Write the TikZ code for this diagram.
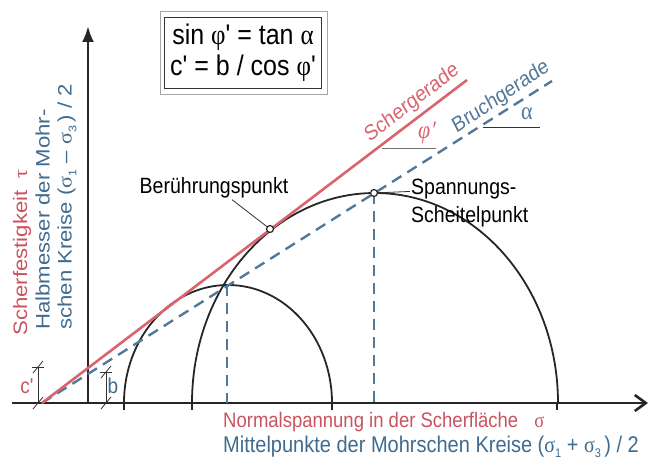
\documentclass[tikz,border=0pt]{standalone}
\usepackage{fontspec}
\setmainfont{Liberation Sans}
\newfontfamily\grk{Liberation Serif}
\usepackage{tikz}
\usetikzlibrary{positioning,arrows.meta,calc}
\definecolor{shearred}{HTML}{D9646E}
\definecolor{breakblue}{HTML}{52789A}
\definecolor{redtext}{HTML}{C9535E}
\definecolor{bluetext}{HTML}{3E6B8F}
\newcommand{\lowidx}[1]{\raisebox{-0.45ex}{\fontsize{11}{11}\selectfont #1}}

\begin{document}
\begin{tikzpicture}[x=1pt, y=-1pt,
    lbl/.style={inner sep=1pt, yscale=1.135, font=\fontsize{19}{23}\selectfont},
    axis/.style={line width=2.6pt, black!85},
    circ/.style={line width=1.8pt, black!85},
    rline/.style={line width=2.6pt, shearred},
    bline/.style={line width=2.4pt, breakblue, dash pattern=on 11pt off 7pt},
    dimline/.style={line width=0.8pt, black!80},
    dotc/.style={circle, draw=black!85, line width=1.2pt, fill=white, inner sep=0pt, minimum size=7pt}]
  \useasboundingbox (0,0) rectangle (654,470);
  % axes
  \draw[axis, -{Straight Barb[length=11pt, width=16pt]}] (12,403) -- (648,403);
  \draw[axis, -{Latex[length=16pt, width=12pt]}] (88,404) -- (88,26);
  % Mohr circles
  \draw[circ] (124,403) arc[start angle=180, end angle=360, x radius=104, y radius=118];
  \draw[circ] (192,403) arc[start angle=180, end angle=360, x radius=183, y radius=210];
  \foreach \x in {124,192,332,557}
    \draw[circ] (\x,403) -- (\x,410);
  % lines
  \draw[bline] (42,403) -- (552,81);
  \draw[bline] (227,285) -- (227,403);
  \draw[bline] (374,193) -- (374,403);
  \draw[rline] (42,403) -- (467,80);
  % dimensions
  \foreach \x/\top in {38/367, 106/372} {
    \draw[dimline] (\x,403) -- (\x,\top);
    \draw[dimline] (\x-6,\top) -- (\x+6,\top);
    \draw[dimline] (\x-5,\top+6) -- (\x+5,\top-6);
    \draw[dimline] (\x-5,409) -- (\x+5,397);
  }
  \node[lbl, text=redtext] (clbl) at (27,386) {c\textquotesingle};
  \node[lbl, text=bluetext] (blbl) at (113,386) {b};
  % points
  \node[dotc] (touch) at (270,229) {};
  \node[dotc] (apex) at (374,193) {};
  \node[lbl, font=\fontsize{19.5}{23}\selectfont] (touchlbl) at (214,188) {Berührungspunkt};
  \draw[dimline] ([xshift=18pt]touchlbl.south) -- (touch);
  \node[lbl, align=left, anchor=west, font=\fontsize{19.5}{25}\selectfont] (apexlbl) at (410,203) {Spannungs-\\Scheitelpunkt};
  \draw[dimline] (apex) -- ([yshift=-14pt]apexlbl.north west);
  % line names and angles
  \node[lbl, rotate=33.9, text=shearred] (shearlbl) at (412,103) {Schergerade};
  \node[lbl, rotate=30.5, text=breakblue] (breaklbl) at (501,97) {Bruchgerade};
  \node[lbl, text=shearred, font=\fontsize{22}{22}\selectfont\grk\itshape] (philbl) at (427,133) {φ\kern1pt′};
  \draw[dimline, black!55] (382,148) -- (436,148);
  \node[lbl, text=breakblue, font=\fontsize{22}{22}\selectfont\grk] (alphalbl) at (527,114) {α};
  \draw[dimline] (483,127) -- (540,127);
  % formula box
  \node[lbl, draw=black!80, line width=0.8pt, align=center, minimum width=157pt, minimum height=62pt,
    font=\fontsize{25}{27}\selectfont] (formula) at (243,53)
    {sin {\grk φ}\textquotesingle{} = tan {\grk α}\\c\textquotesingle{} = b / cos {\grk φ}\textquotesingle};
  \draw[black!35, line width=0.8pt] ($(formula.south west)+(-4pt,-6pt)$) rectangle ($(formula.north east)+(5pt,6pt)$);
  % axis labels
  \node[lbl, rotate=90, anchor=west, text=redtext, font=\fontsize{19.5}{23}\selectfont] (taulbl) at (22,337) {Scherfestigkeit~~{\grk τ}};
  \node[lbl, rotate=90, anchor=west, align=left, text=bluetext, font=\fontsize{19.5}{22}\selectfont] (radlbl) at (56,331)
    {Halbmesser der Mohr-\\schen Kreise ({\grk σ}\lowidx{1} – {\grk σ}\lowidx{3}\,) / 2};
  \node[lbl, anchor=west, text=redtext, font=\fontsize{18.5}{21}\selectfont] (sigmalbl) at (222,422) {Normalspannung in der Scherfläche\hspace{16pt}{\grk σ}};
  \node[lbl, anchor=west, text=bluetext, font=\fontsize{20}{22}\selectfont] (midlbl) at (222,447)
    {Mittelpunkte der Mohrschen Kreise ({\grk σ}\lowidx{1} + {\grk σ}\lowidx{3}\,) / 2};
\end{tikzpicture}
\end{document}
